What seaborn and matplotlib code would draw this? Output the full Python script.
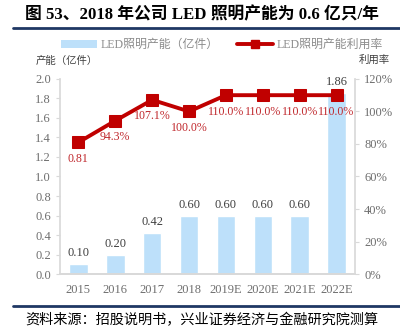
import matplotlib
matplotlib.use("Agg")
import matplotlib.pyplot as plt
import seaborn as sns
import pandas as pd
from matplotlib.ticker import FuncFormatter, MultipleLocator
from matplotlib.patches import Patch
from matplotlib.lines import Line2D

years = ["2015", "2016", "2017", "2018", "2019E", "2020E", "2021E", "2022E"]
capacity = [0.10, 0.20, 0.42, 0.60, 0.60, 0.60, 0.60, 1.86]
utilization = [0.81, 0.943, 1.071, 1.000, 1.10, 1.10, 1.10, 1.10]
util_labels = ["0.81", "94.3%", "107.1%", "100.0%", "110.0%", "110.0%", "110.0%", "110.0%"]
cap_labels = ["0.10", "0.20", "0.42", "0.60", "0.60", "0.60", "0.60", "1.86"]

sns.set_theme(style="white")
plt.rcParams['font.family'] = ['Liberation Serif', 'Noto Sans CJK SC']
CJK = ['Noto Sans CJK SC', 'DejaVu Sans']

df = pd.DataFrame({"year": years, "cap": capacity, "util": utilization})

fig = plt.figure(figsize=(4.0, 3.33), dpi=100)
ax = fig.add_axes([0.15, 0.177, 0.7375, 0.586])
bar_c = "#BDE0FA"
line_c = "#C00000"
grey = "#6E6E6E"

sns.barplot(data=df, x="year", y="cap", color=bar_c, width=0.5, ax=ax, saturation=1)
ax.set_ylim(0, 2.0)
ax.set_xlim(-0.5, 7.5)
ax.yaxis.set_major_locator(MultipleLocator(0.2))
ax.yaxis.set_major_formatter(FuncFormatter(lambda v, p: f"{v:.1f}"))
ax.set_xlabel("")
ax.set_ylabel("")
for i, (v, t) in enumerate(zip(capacity, cap_labels)):
    ax.text(i, v + 0.05, t, ha="center", va="bottom", fontsize=9, color="#404040")

ax2 = ax.twinx()
sns.lineplot(x=list(range(len(years))), y=utilization, ax=ax2, color=line_c, lw=2.8,
             marker="s", markersize=8, markeredgecolor=line_c)
ax2.set_ylim(0, 1.2)
ax2.yaxis.set_major_locator(MultipleLocator(0.2))
ax2.yaxis.set_major_formatter(FuncFormatter(lambda v, p: f"{v*100:.0f}%"))
for i, (v, t) in enumerate(zip(utilization, util_labels)):
    ax2.text(i, v - 0.065, t, ha="center", va="top", fontsize=8.6, color="#C0282D")
ax2.set_xlim(-0.5, 7.5)

for a in (ax, ax2):
    a.spines["top"].set_visible(False)
    a.spines["left"].set_color("#D9D9D9")
    a.spines["right"].set_color("#D9D9D9")
    a.spines["bottom"].set_color("#D9D9D9")
    a.tick_params(colors=grey, labelsize=9, length=3, width=0.8)
    a.tick_params(axis="y", color="#D9D9D9")
ax.spines["right"].set_visible(False)
ax2.spines["left"].set_visible(False)
ax.set_xticks(range(len(years)))
ax.set_xticklabels(years)
ax.tick_params(axis="x", length=0, pad=7)
ax.set_xticks([i - 0.5 for i in range(len(years) + 1)], minor=True)
ax.tick_params(axis="x", which="minor", length=4, color="#D9D9D9", width=0.8)

# title
fig.text(0.062, 0.955, "图 53、2018 年公司 LED 照明产能为 0.6 亿只/年", fontsize=12.1,
         fontweight="bold", color="black", ha="left", va="center",
         family=['Liberation Serif', 'Noto Sans CJK SC'])
fig.add_artist(Line2D([0.033, 1.0], [0.915, 0.915], color="#1F3864", lw=2))
fig.add_artist(Line2D([0.033, 1.0], [0.081, 0.081], color="#1F3864", lw=2))

fig.text(0.088, 0.816, "产能（亿件）", fontsize=7.5, color="#404040", family=CJK,
         ha="left", va="center")
fig.text(0.975, 0.822, "利用率", fontsize=7.5, color="#404040", family=CJK,
         ha="right", va="center")

handles = [Patch(facecolor=bar_c, edgecolor="none"),
           Line2D([0], [0], color=line_c, lw=2.8, marker="s", markersize=6)]
leg = fig.legend(handles, ["LED照明产能（亿件）", "LED照明产能利用率"],
                 loc="center", bbox_to_anchor=(0.555, 0.865), ncol=2, frameon=False,
                 handlelength=3.0, columnspacing=1.6, handletextpad=0.25,
                 prop={'family': ['Liberation Serif', 'Noto Sans CJK SC'], 'size': 8.6})
for t in leg.get_texts():
    t.set_color("#8C8C8C")

fig.text(0.062, 0.04, "资料来源：招股说明书，兴业证券经济与金融研究院测算", fontsize=10.2,
         color="black", family=CJK, ha="left", va="center")

fig.savefig("out.png", dpi=100)
